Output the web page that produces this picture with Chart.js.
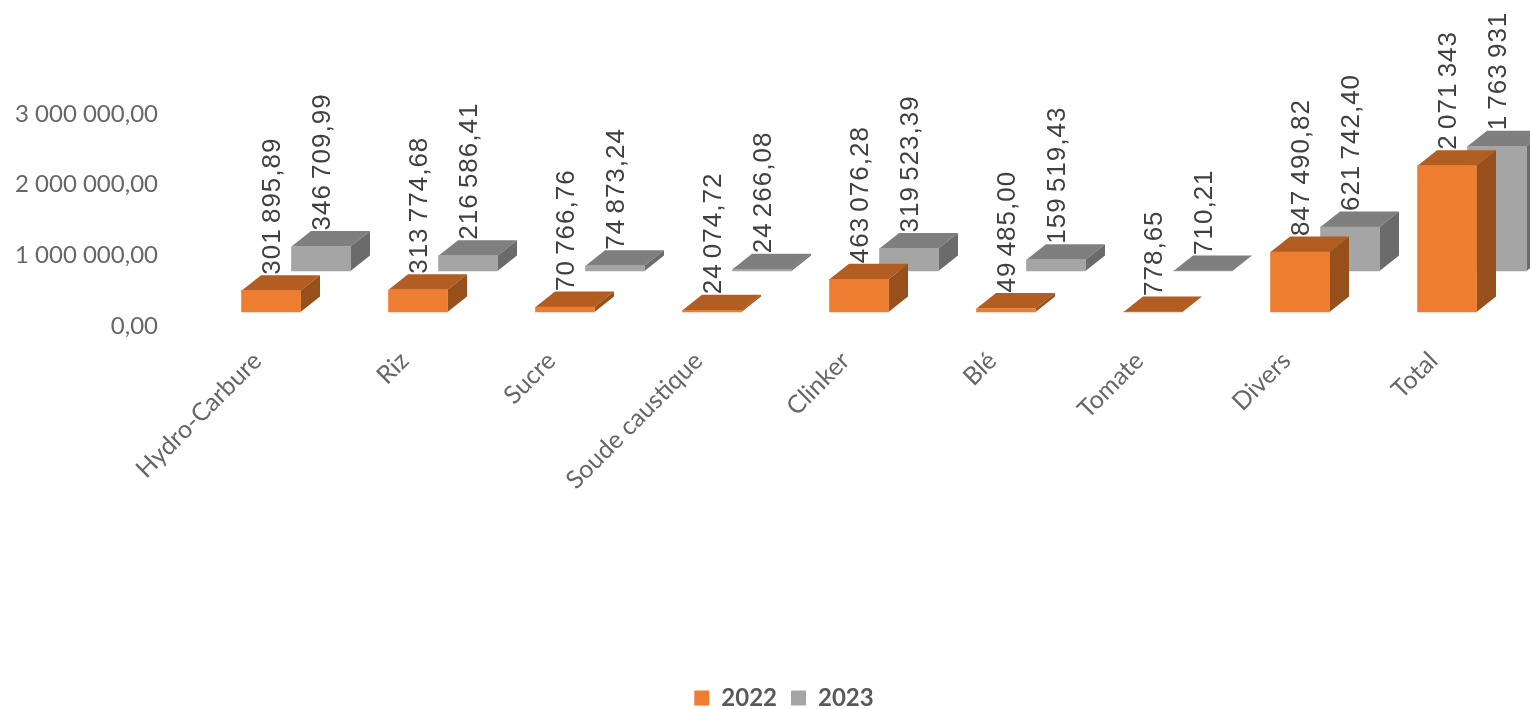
<!DOCTYPE html>
<html><head><meta charset="utf-8">
<style>html,body{margin:0;padding:0;background:#fff}canvas{display:block}</style>
<script src="https://cdn.jsdelivr.net/npm/chart.js@4"></script>
</head><body><canvas id="c" width="1530" height="709"></canvas>
<script>
const categories = ['Hydro-Carbure','Riz','Sucre','Soude caustique','Clinker','Blé','Tomate','Divers','Total'];
const values2022 = [301895.89,313774.68,70766.76,24074.72,463076.28,49485.00,778.65,847490.82,2071343];
const values2023 = [346709.99,216586.41,74873.24,24266.08,319523.39,159519.43,710.21,621742.40,1763931];
const labels2022 = ['301 895,89','313 774,68','70 766,76','24 074,72','463 076,28','49 485,00','778,65','847 490,82','2 071 343'];
const labels2023 = ['346 709,99','216 586,41','74 873,24','24 266,08','319 523,39','159 519,43','710,21','621 742,40','1 763 931'];
const yTickLabels = ['0,00','1 000 000,00','2 000 000,00','3 000 000,00'];

const DEPTH_X = 19.5, DEPTH_Y = -15.5;
const looks = [
  {dx:-0.5, dy:-14, top:'#B25D21', side:'#97501C', texts:labels2022},
  {dx:49.5, dy:-55, top:'#7F7F7F', side:'#6B6B6B', texts:labels2023}
];
const faces = {
  id:'faces',
  afterLayout(chart){ chart.scales.y.left = 0; },
  beforeDatasetDraw(chart,args){
    const c=chart.ctx, l=looks[args.index];
    c.save(); c.translate(l.dx,l.dy);
    args.meta.data.forEach(el=>{
      const p=el.getProps(['x','y','base','width'],true);
      const L=p.x-p.width/2,R=p.x+p.width/2,T=p.y,B=p.base;
      c.fillStyle=l.top; c.beginPath(); c.moveTo(L,T); c.lineTo(R,T);
      c.lineTo(R+DEPTH_X,T+DEPTH_Y); c.lineTo(L+DEPTH_X,T+DEPTH_Y); c.closePath(); c.fill();
      c.fillStyle=l.side; c.beginPath(); c.moveTo(R,T); c.lineTo(R,B);
      c.lineTo(R+DEPTH_X,B+DEPTH_Y); c.lineTo(R+DEPTH_X,T+DEPTH_Y); c.closePath(); c.fill();
    });
  },
  afterDatasetDraw(chart){ chart.ctx.restore(); },
  afterDatasetsDraw(chart){
    const c=chart.ctx;
    looks.forEach((l,i)=>{
      chart.getDatasetMeta(i).data.forEach((el,k)=>{
        const p=el.getProps(['x','y'],true);
        c.save();
        c.translate(p.x+l.dx+1.5,p.y+l.dy-16);
        c.rotate(-Math.PI/2);
        c.font='26px "Liberation Sans"';
        c.letterSpacing='1px';
        c.wordSpacing='-3px';
        c.fillStyle='#404040'; c.textAlign='left'; c.textBaseline='middle';
        c.fillText(l.texts[k],0,0);
        c.restore();
      });
    });
  }
};
new Chart(document.getElementById('c'),{
  type:'bar',
  data:{labels:categories,datasets:[
    {label:'2022',data:values2022,backgroundColor:'#ED7D31',clip:false},
    {label:'2023',data:values2023,backgroundColor:'#A5A5A5',clip:false}
  ]},
  plugins:[faces],
  options:{
    responsive:false,animation:false,
    layout:{padding:{left:47,right:9,top:114,bottom:-11}},
    datasets:{bar:{grouped:false,barThickness:59,borderWidth:0}},
    scales:{
      x:{grid:{display:false},border:{display:false},
        afterFit(s){s.height=346;},
        ticks:{autoSkip:false,maxRotation:45,minRotation:45,padding:12,labelOffset:-14,
          color:'#666666',font:{family:'Lato',size:25}}},
      y:{min:0,max:3000000,grid:{display:false},border:{display:false},
        afterFit(s){s.width=151;},
        ticks:{stepSize:1000000,padding:32,color:'#666666',font:{family:'Lato',size:24},
          callback(v){return yTickLabels[Math.round(v/1000000)];}}}
    },
    plugins:{
      tooltip:{enabled:false},
      legend:{position:'bottom',labels:{boxWidth:15,boxHeight:15,padding:14,color:'#595959',
        font:{family:'Lato',size:24,weight:'bold'}}}
    }
  }
});
</script></body></html>
